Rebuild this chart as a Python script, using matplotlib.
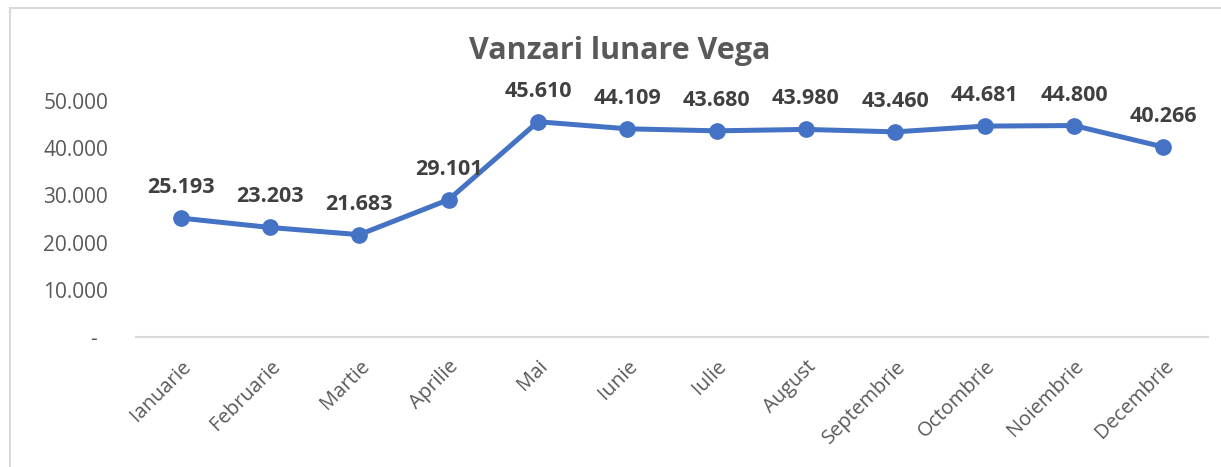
import matplotlib.pyplot as plt
from matplotlib.patches import Rectangle

# Data
luni = ['Ianuarie', 'Februarie', 'Martie', 'Aprilie', 'Mai', 'Iunie',
        'Iulie', 'August', 'Septembrie', 'Octombrie', 'Noiembrie', 'Decembrie']
vanzari = [25193, 23203, 21683, 29101, 45610, 44109,
           43680, 43980, 43460, 44681, 44800, 40266]
y_ticks = [0, 10000, 20000, 30000, 40000, 50000]
y_labels = ['-  ', '10.000', '20.000', '30.000', '40.000', '50.000']

plt.rcParams['font.family'] = ['Open Sans', 'DejaVu Sans']

fig = plt.figure(figsize=(12.21, 4.67), dpi=100)
ax = fig.add_axes([136 / 1221, 130 / 467, 1072 / 1221, 236 / 467])

x = list(range(len(luni)))
ax.plot(x, vanzari, color='#4472C4', lw=3.6, marker='o', markersize=11,
        solid_capstyle='round', zorder=3, clip_on=False)

for xi, v in zip(x, vanzari):
    lbl = f'{v:,}'.replace(',', '.')
    ax.annotate(lbl, (xi, v), xytext=(0, 18), textcoords='offset points',
                ha='center', va='baseline', fontsize=15.5, fontweight='bold',
                color='#404040')

ax.set_xlim(-0.5, len(luni) - 0.5)
ax.set_ylim(0, 50000)
ax.set_xticks(x)
ax.set_xticklabels(luni, rotation=45, ha='right', rotation_mode='anchor',
                   fontsize=14.5, color='#595959')
ax.set_yticks(y_ticks)
ax.set_yticklabels(y_labels, fontsize=15, color='#595959')
ax.tick_params(axis='both', length=0)
ax.tick_params(axis='y', pad=20)
ax.tick_params(axis='x', pad=14)

for s in ['top', 'right', 'left']:
    ax.spines[s].set_visible(False)
ax.spines['bottom'].set_color('#D9D9D9')
ax.spines['bottom'].set_linewidth(1.5)

fig.text(620 / 1221, 1 - 51 / 467, 'Vanzari lunare Vega', ha='center', va='center',
         fontsize=22, fontweight='bold', color='#595959')

# chart frame (left and top edges visible)
fig.patches.append(Rectangle((10 / 1221, -0.01), 1.05, 1 - 8 / 467 + 0.01,
                             transform=fig.transFigure, fill=False,
                             edgecolor='#D9D9D9', lw=1.5))

fig.savefig('out.png', dpi=100)
